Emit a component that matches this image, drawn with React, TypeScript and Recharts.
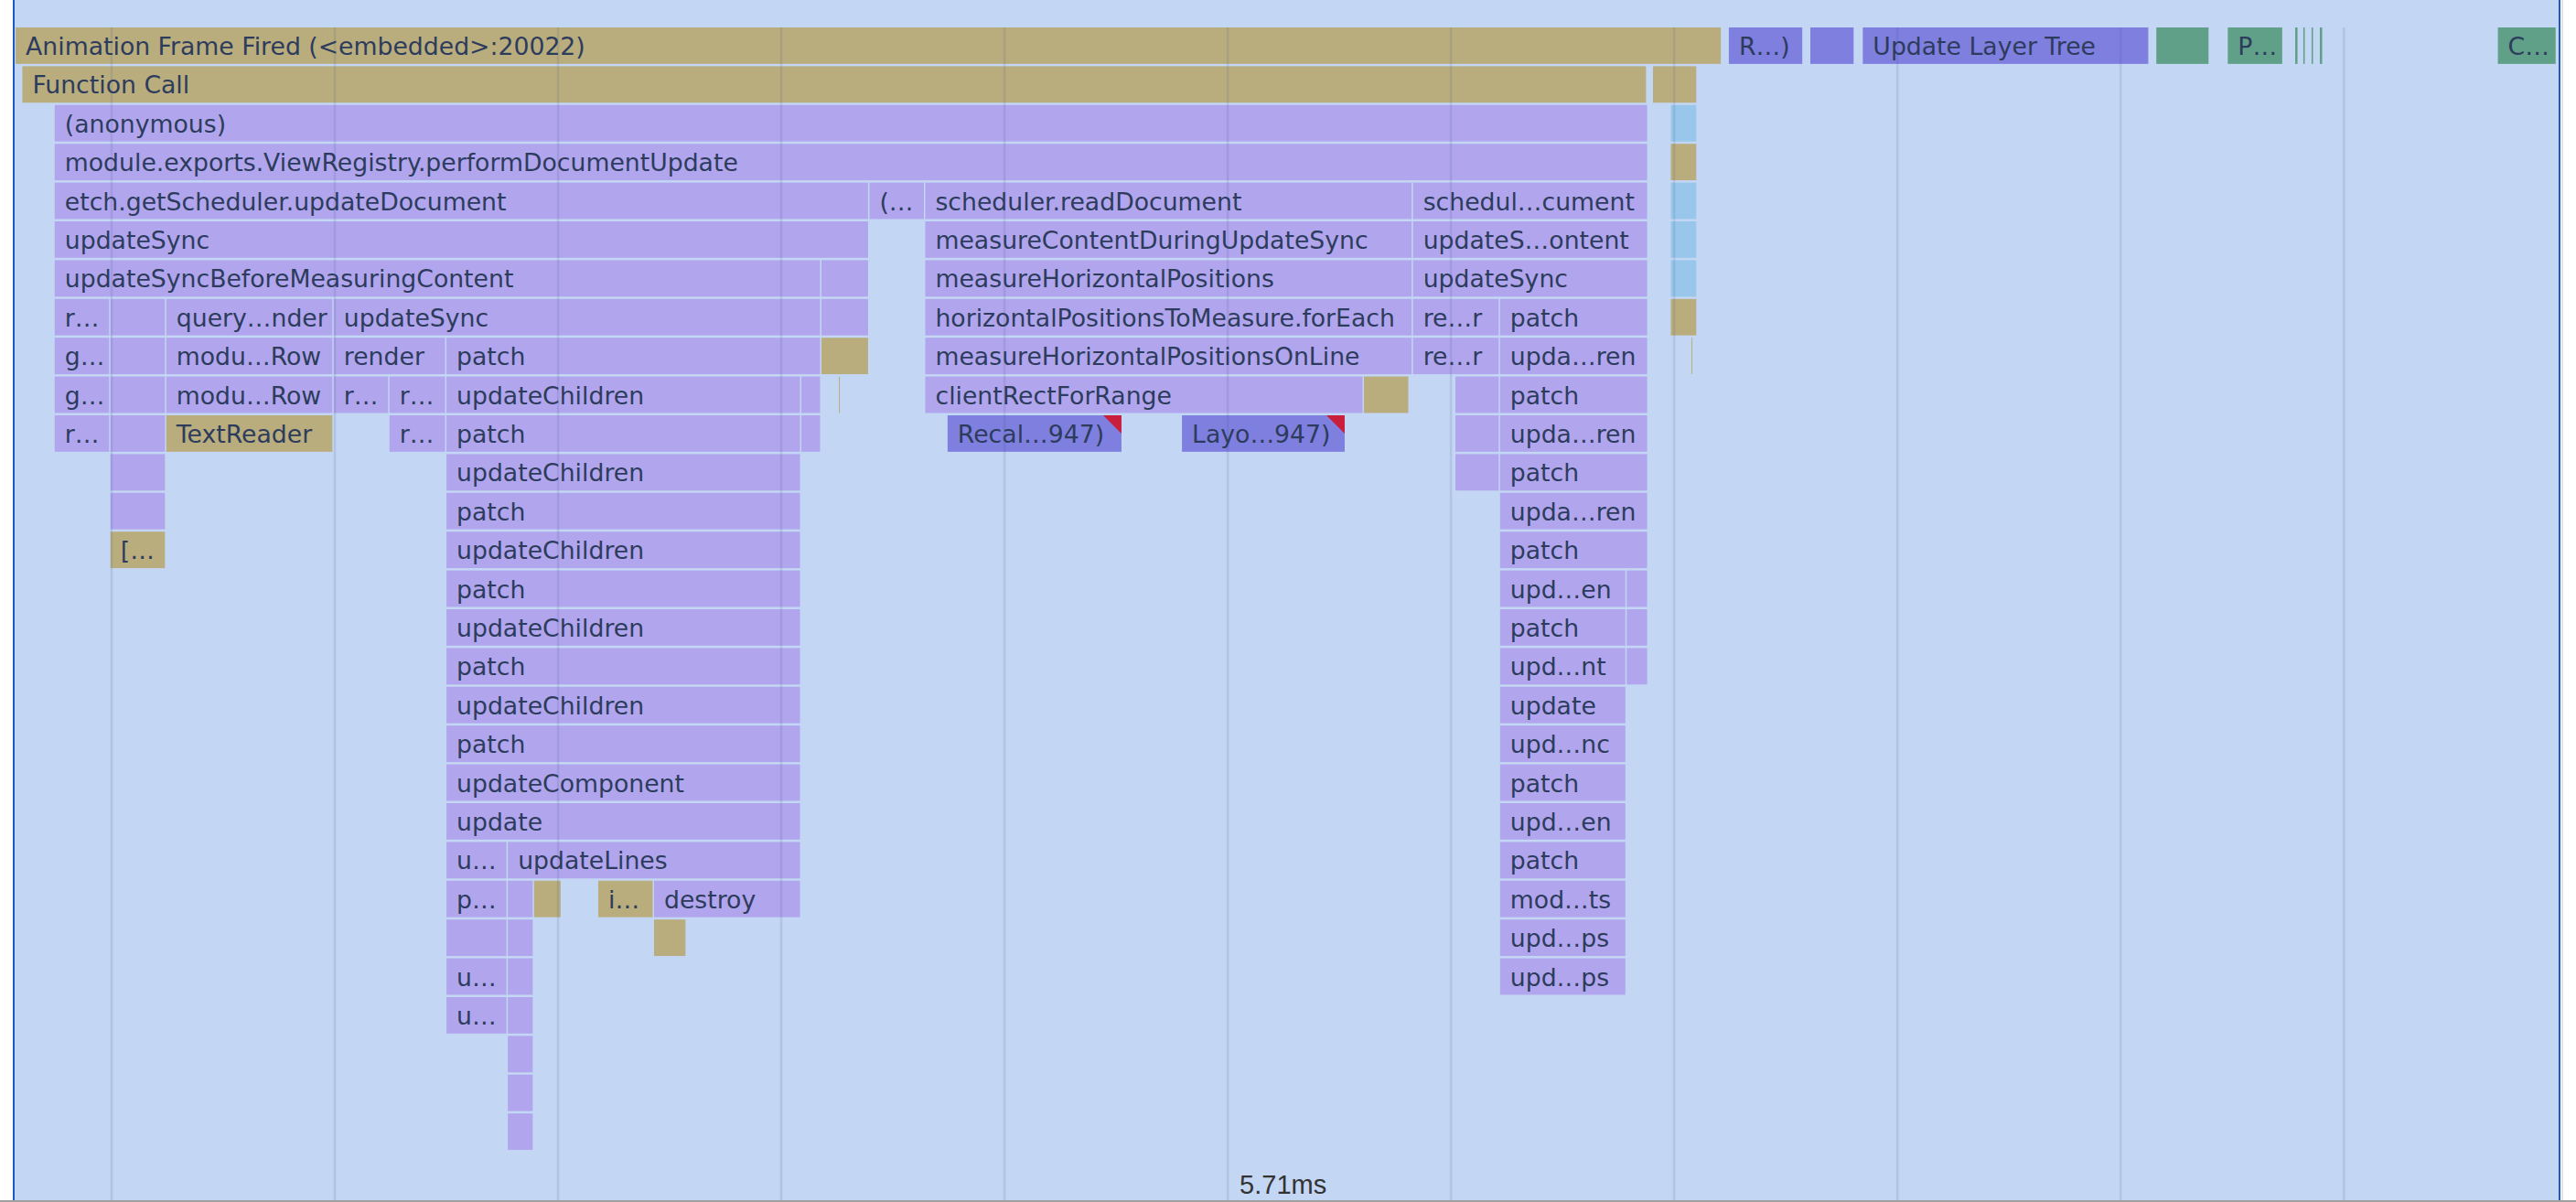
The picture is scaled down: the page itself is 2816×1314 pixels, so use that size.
import React from 'react';
import { ComposedChart, XAxis, YAxis, ReferenceArea, ReferenceLine } from 'recharts';

// Flame chart of one animation frame (DevTools performance panel)

const WIDTH = 2816;
const HEIGHT = 1314;
const ROW_PITCH = 42.4; // px per stack depth
const TOP_PAD = 30; // px above the first row

// visible time window, ms
const VIEW_START = 4.61;
const VIEW_END = 6.918;

// vertical grid lines (ms); only one of them carries a label
const GRID_TIMES = [4.71, 4.91, 5.11, 5.31, 5.51, 5.71, 5.91, 6.11, 6.31, 6.51, 6.71];
const LABEL_TIME = 5.71;

type Kind = 'gold' | 'purple' | 'dark' | 'green' | 'blue';
// [depth, start ms, end ms, label, kind, warning flag]
type Ev = [number, number, number, string, Kind?, boolean?];

const COLORS: Record<Kind, string> = {
  gold: '#b9ad7e',
  purple: '#b1a6ee',
  dark: '#7f7fdf',
  green: '#61a088',
  blue: '#98c7eb'
};

// top level tasks of the frame
const frameTasks: Ev[] = [
  [0, 4.624, 6.153, 'Animation Frame Fired (<embedded>:20022)', 'gold'],
  [0, 6.159, 6.226, 'R…)', 'dark'],
  [0, 6.232, 6.272, '', 'dark'],
  [0, 6.279, 6.536, 'Update Layer Tree', 'dark'],
  [0, 6.542, 6.59, '', 'green'],
  [0, 6.606, 6.656, 'P…', 'green'],
  [0, 6.6664, 6.6697, '', 'green'],
  [0, 6.6737, 6.6762, '', 'green'],
  [0, 6.6811, 6.6836, '', 'green'],
  [0, 6.6885, 6.6918, '', 'green'],
  [0, 6.848, 6.901, 'C…', 'green'],
  [1, 4.63, 6.086, 'Function Call', 'gold'],
  [1, 6.091, 6.131, '', 'gold'],
  [2, 4.659, 6.087, '(anonymous)'],
  [3, 4.659, 6.087, 'module.exports.ViewRegistry.performDocumentUpdate']
];

// etch.getScheduler.updateDocument and below
const updateStack: Ev[] = [
  [4, 4.659, 5.389, 'etch.getScheduler.updateDocument'],
  [4, 5.389, 5.439, '(…'],
  [5, 4.659, 5.389, 'updateSync'],
  [6, 4.659, 5.346, 'updateSyncBeforeMeasuringContent'],
  [6, 5.346, 5.389, ''],
  [7, 4.659, 4.709, 'r…'],
  [7, 4.709, 4.759, ''],
  [7, 4.759, 4.909, 'query…nder'],
  [7, 4.909, 5.346, 'updateSync'],
  [7, 5.346, 5.389, ''],
  [8, 4.659, 4.709, 'g…'],
  [8, 4.709, 4.759, ''],
  [8, 4.759, 4.909, 'modu…Row'],
  [8, 4.909, 5.01, 'render'],
  [8, 5.01, 5.346, 'patch'],
  [8, 5.346, 5.389, '', 'gold'],
  [9, 4.659, 4.709, 'g…'],
  [9, 4.709, 4.759, ''],
  [9, 4.759, 4.909, 'modu…Row'],
  [9, 4.909, 4.959, 'r…'],
  [9, 4.959, 5.01, 'r…'],
  [9, 5.01, 5.328, 'updateChildren'],
  [9, 5.328, 5.346, ''],
  [9, 5.3616, 5.3636, '', 'gold'],
  [10, 4.659, 4.709, 'r…'],
  [10, 4.709, 4.759, ''],
  [10, 4.759, 4.909, 'TextReader', 'gold'],
  [10, 4.959, 5.01, 'r…'],
  [10, 5.01, 5.328, 'patch'],
  [10, 5.328, 5.346, ''],
  [11, 4.709, 4.759, ''],
  [11, 5.01, 5.328, 'updateChildren'],
  [12, 4.709, 4.759, ''],
  [12, 5.01, 5.328, 'patch'],
  [13, 4.709, 4.759, '[…', 'gold'],
  [13, 5.01, 5.328, 'updateChildren'],
  [14, 5.01, 5.328, 'patch'],
  [15, 5.01, 5.328, 'updateChildren'],
  [16, 5.01, 5.328, 'patch'],
  [17, 5.01, 5.328, 'updateChildren'],
  [18, 5.01, 5.328, 'patch'],
  [19, 5.01, 5.328, 'updateComponent'],
  [20, 5.01, 5.328, 'update'],
  [21, 5.01, 5.065, 'u…'],
  [21, 5.065, 5.328, 'updateLines'],
  [22, 5.01, 5.065, 'p…'],
  [22, 5.065, 5.0885, ''],
  [22, 5.0885, 5.1135, '', 'gold'],
  [22, 5.146, 5.196, 'i…', 'gold'],
  [22, 5.196, 5.328, 'destroy'],
  [23, 5.01, 5.065, ''],
  [23, 5.065, 5.0885, ''],
  [23, 5.196, 5.2254, '', 'gold'],
  [24, 5.01, 5.065, 'u…'],
  [24, 5.065, 5.0885, ''],
  [25, 5.01, 5.065, 'u…'],
  [25, 5.065, 5.0885, ''],
  [26, 5.065, 5.0885, ''],
  [27, 5.065, 5.0885, ''],
  [28, 5.065, 5.0885, '']
];

// scheduler.readDocument branch
const readStack: Ev[] = [
  [4, 5.439, 5.876, 'scheduler.readDocument'],
  [5, 5.439, 5.876, 'measureContentDuringUpdateSync'],
  [6, 5.439, 5.876, 'measureHorizontalPositions'],
  [7, 5.439, 5.876, 'horizontalPositionsToMeasure.forEach'],
  [8, 5.439, 5.876, 'measureHorizontalPositionsOnLine'],
  [9, 5.439, 5.832, 'clientRectForRange'],
  [9, 5.832, 5.873, '', 'gold'],
  [10, 5.459, 5.616, 'Recal…947)', 'dark', true],
  [10, 5.669, 5.816, 'Layo…947)', 'dark', true]
];

// second scheduler.updateDocument branch
const secondStack: Ev[] = [
  [4, 5.876, 6.087, 'schedul…cument'],
  [5, 5.876, 6.087, 'updateS…ontent'],
  [6, 5.876, 6.087, 'updateSync'],
  [7, 5.876, 5.954, 're…r'],
  [7, 5.954, 6.087, 'patch'],
  [8, 5.876, 5.954, 're…r'],
  [8, 5.954, 6.087, 'upda…ren'],
  [9, 5.914, 5.954, ''],
  [9, 5.954, 6.087, 'patch'],
  [10, 5.914, 5.954, ''],
  [10, 5.954, 6.087, 'upda…ren'],
  [11, 5.914, 5.954, ''],
  [11, 5.954, 6.087, 'patch'],
  [12, 5.954, 6.087, 'upda…ren'],
  [13, 5.954, 6.087, 'patch'],
  [14, 5.954, 6.0675, 'upd…en'],
  [14, 6.0675, 6.087, ''],
  [15, 5.954, 6.0675, 'patch'],
  [15, 6.0675, 6.087, ''],
  [16, 5.954, 6.0675, 'upd…nt'],
  [16, 6.0675, 6.087, ''],
  [17, 5.954, 6.0675, 'update'],
  [18, 5.954, 6.0675, 'upd…nc'],
  [19, 5.954, 6.0675, 'patch'],
  [20, 5.954, 6.0675, 'upd…en'],
  [21, 5.954, 6.0675, 'patch'],
  [22, 5.954, 6.0675, 'mod…ts'],
  [23, 5.954, 6.0675, 'upd…ps'],
  [24, 5.954, 6.0675, 'upd…ps']
];

// small column right after the function call
const tailColumn: Ev[] = [
  [2, 6.107, 6.131, '', 'blue'],
  [3, 6.107, 6.131, '', 'gold'],
  [4, 6.107, 6.131, '', 'blue'],
  [5, 6.107, 6.131, '', 'blue'],
  [6, 6.107, 6.131, '', 'blue'],
  [7, 6.107, 6.131, '', 'gold'],
  [8, 6.1255, 6.1275, '', 'gold']
];

const ALL_EVENTS: Ev[] = [...frameTasks, ...updateStack, ...readStack, ...secondStack, ...tailColumn];

const FONT = "'DejaVu Sans', Verdana, sans-serif";

const makeShape = (label: string, kind: Kind, flag: boolean) => (p: any) => {
  const { x, y, width, height } = p;
  const w = Math.max(width - 1.5, 1);
  return (
    <g>
      <rect x={x} y={y} width={w} height={height} fill={COLORS[kind]} />
      {flag && (
        <polygon points={`${x + w - 20},${y} ${x + w},${y} ${x + w},${y + 20}`} fill="#c81f3c" />
      )}
      {label && (
        <text x={x + 11} y={y + 30} fontSize={26.7} fontFamily={FONT} fill="#2d3c5c">
          {label}
        </text>
      )}
    </g>
  );
};

const timeLabel = (props: any) => {
  const vb = props.viewBox || {};
  return (
    <text
      x={vb.x + 13}
      y={vb.y + vb.height - 9}
      fontSize={29}
      fontFamily="'Liberation Sans', Arial, sans-serif"
      fill="#333"
    >
      {LABEL_TIME.toFixed(2)}ms
    </text>
  );
};

const yMin = -TOP_PAD / ROW_PITCH;
const yMax = (HEIGHT - TOP_PAD) / ROW_PITCH;

export default function App() {
  const data = GRID_TIMES.map(t => ({ t }));
  return (
    <div style={{ position: 'fixed', left: 0, top: 0, width: WIDTH, height: HEIGHT, background: '#fff' }}>
      <div
        style={{
          position: 'absolute',
          left: 14,
          top: 0,
          width: 2785,
          height: HEIGHT - 2,
          background: '#c3d6f3',
          borderLeft: '2px solid #1d58c4',
          borderRight: '2px solid #1d58c4',
          boxSizing: 'border-box'
        }}
      />
      <div style={{ position: 'absolute', left: 2800, top: 0, width: 2, height: HEIGHT, background: '#e4e4e4' }} />
      <div style={{ position: 'absolute', left: 0, top: 0 }}>
        <ComposedChart width={WIDTH} height={HEIGHT} data={data} margin={{ top: 0, right: 0, bottom: 0, left: 0 }}>
          <XAxis dataKey="t" type="number" domain={[VIEW_START, VIEW_END]} allowDataOverflow hide />
          <YAxis type="number" domain={[yMin, yMax]} allowDataOverflow reversed hide />
          {ALL_EVENTS.map(([row, start, end, label, kind = 'purple', flag = false], i) => (
            <ReferenceArea
              key={i}
              x1={start}
              x2={end}
              y1={row}
              y2={row + 0.94}
              shape={makeShape(label, kind, flag)}
            />
          ))}
          {GRID_TIMES.map(t => (
            <ReferenceLine
              key={t}
              segment={[{ x: t, y: 0 }, { x: t, y: yMax }]}
              stroke="#3a4f80"
              strokeOpacity={0.13}
              strokeWidth={2.5}
              label={t === LABEL_TIME ? timeLabel : undefined}
            />
          ))}
        </ComposedChart>
      </div>
      <div style={{ position: 'absolute', left: 0, top: HEIGHT - 2, width: WIDTH, height: 2, background: '#a0a0a0' }} />
    </div>
  );
}
